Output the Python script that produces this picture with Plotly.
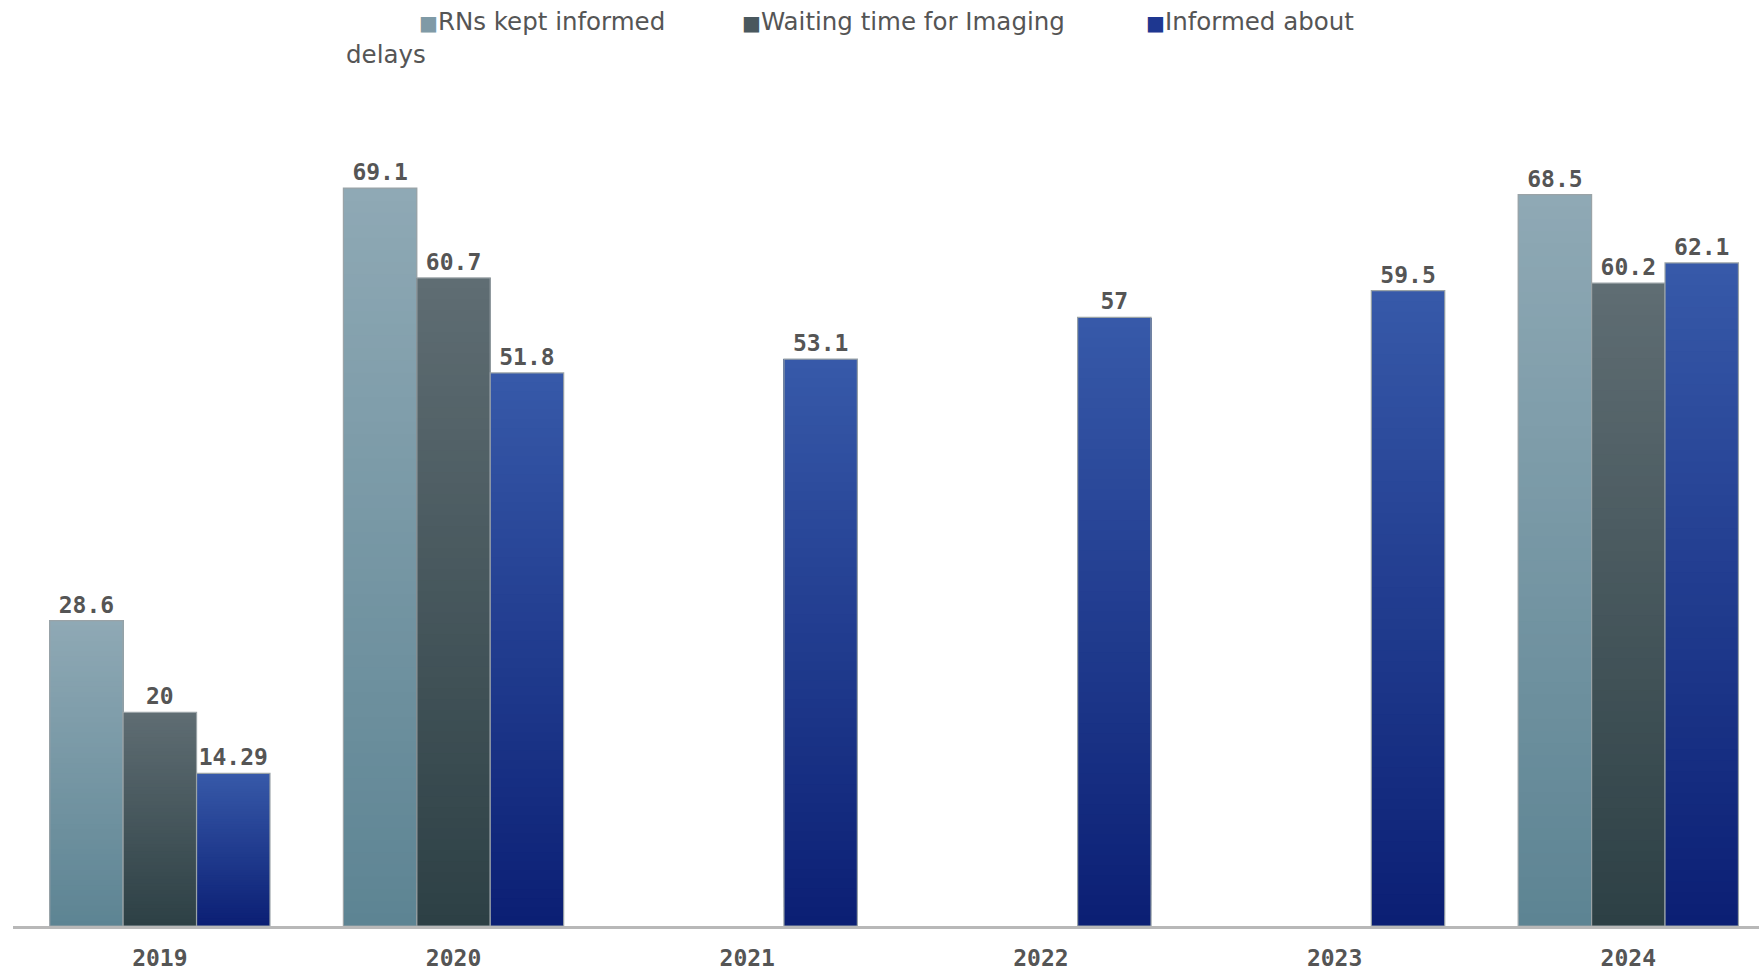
import plotly.graph_objects as go

# Survey results by year (percent)
years = ["2019", "2020", "2021", "2022", "2023", "2024"]
rns_kept_informed = [28.6, 69.1, None, None, None, 68.5]
waiting_time_imaging = [20, 60.7, None, None, None, 60.2]
informed_about_delays = [14.29, 51.8, 53.1, 57, 59.5, 62.1]

series = [
    # name, values, top colour, bottom colour, swatch colour
    ("RNs kept informed", rns_kept_informed, "#8fa9b5", "#5d8493", "#7f9aa6"),
    ("Waiting time for Imaging", waiting_time_imaging, "#5f6d73", "#2d4045", "#4a585e"),
    ("Informed about delays", informed_about_delays, "#3759a9", "#0b1f74", "#1e3790"),
]

N_SLICES = 60
FONT = "DejaVu Sans"
MONO = "DejaVu Sans Mono"
TEXT_COLOR = "#555555"

W, H = 1759, 971
M_L, M_R, M_T, M_B = 13, 0, 100, 42
PLOT_W, PLOT_H = W - M_L - M_R, H - M_T - M_B


def hex_to_rgb(h):
    h = h.lstrip("#")
    return tuple(int(h[i:i + 2], 16) for i in (0, 2, 4))


def mix(c_bottom, c_top, t):
    a, b = hex_to_rgb(c_bottom), hex_to_rgb(c_top)
    r, g, bl = (round(a[k] + (b[k] - a[k]) * t) for k in range(3))
    return f"rgb({r},{g},{bl})"


fig = go.Figure()

for idx, (name, values, c_top, c_bot, _) in enumerate(series):
    group = f"s{idx}"
    # vertical gradient: overlapping bars, each starting a little higher
    for i in range(N_SLICES):
        t = (i + 0.5) / N_SLICES
        fig.add_trace(go.Bar(
            x=years,
            y=[None if v is None else v * (N_SLICES - i) / N_SLICES for v in values],
            base=[None if v is None else v * i / N_SLICES for v in values],
            offsetgroup=group,
            marker=dict(color=mix(c_bot, c_top, t), line=dict(width=0)),
            showlegend=False,
            hoverinfo="skip",
        ))
    # outline + value labels
    fig.add_trace(go.Bar(
        x=years,
        y=values,
        name=name,
        offsetgroup=group,
        marker=dict(color="rgba(0,0,0,0)", line=dict(color="#9aa3a7", width=1.2)),
        text=[None if v is None else f"{v:g}" for v in values],
        textposition="outside",
        textfont=dict(family=MONO, size=23, color=TEXT_COLOR, weight="bold"),
        cliponaxis=False,
        showlegend=False,
        hovertemplate="%{x}: %{y}<extra>" + name + "</extra>",
    ))


def px_to_paper(xpx, ypx):
    return (xpx - M_L) / PLOT_W, 1 + (M_T - ypx) / PLOT_H


# legend row built from text with coloured square glyphs
legend_items = [
    (series[0][4], "RNs kept informed", 417),
    (series[1][4], "Waiting time for Imaging", 740),
    (series[2][4], "Informed about", 1144),
]
annotations = []
for color, label, xpx in legend_items:
    ax, ay = px_to_paper(xpx, 21)
    annotations.append(dict(
        x=ax, y=ay, xref="paper", yref="paper",
        xanchor="left", yanchor="middle", showarrow=False,
        text=f'<span style="color:{color};font-size:20px">■</span>{label}',
        font=dict(family=FONT, size=24.5, color=TEXT_COLOR),
    ))
ax, ay = px_to_paper(344, 54)
annotations.append(dict(
    x=ax, y=ay, xref="paper", yref="paper",
    xanchor="left", yanchor="middle", showarrow=False,
    text="delays",
    font=dict(family=FONT, size=24.5, color=TEXT_COLOR),
))

fig.update_layout(
    width=W,
    height=H,
    barmode="group",
    bargap=0.25,
    bargroupgap=0,
    plot_bgcolor="white",
    paper_bgcolor="white",
    margin=dict(l=M_L, r=M_R, t=M_T, b=M_B),
    showlegend=False,
    annotations=annotations,
    xaxis=dict(
        type="category",
        range=[-0.5, 5.445],
        showline=True,
        linecolor="#b8b8b8",
        linewidth=3,
        ticks="",
        showgrid=False,
        ticklabelstandoff=9,
        tickfont=dict(family=MONO, size=23, color=TEXT_COLOR, weight="bold"),
    ),
    yaxis=dict(
        range=[0, 77.36],
        visible=False,
        showgrid=False,
        zeroline=False,
    ),
)

fig.write_html("out.html")
